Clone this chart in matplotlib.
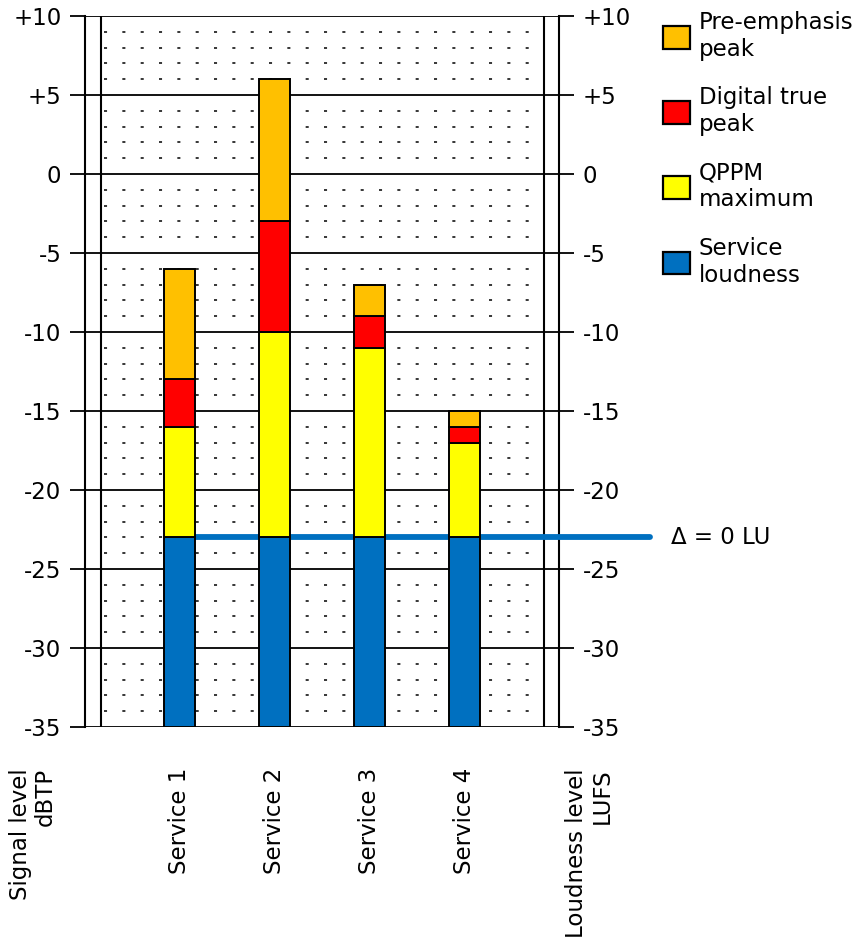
import numpy as np
import matplotlib
matplotlib.use("Agg")
import matplotlib.pyplot as plt
from matplotlib.patches import Patch

plt.rcParams['font.family'] = ['DejaVu Sans']
plt.rcParams['lines.scale_dashes'] = False

services = ['Service 1', 'Service 2', 'Service 3', 'Service 4']
loudness = [-23, -23, -23, -23]        # LUFS
qppm_max = [-16, -10, -11, -17]        # dBTP
true_peak = [-13, -3, -9, -16]
preemph_peak = [-6, 6, -7, -15]
target = -23
yticks = [10, 5, 0, -5, -10, -15, -20, -25, -30, -35]
ytick_labels = ['+10', '+5', '0', '-5', '-10', '-15', '-20', '-25', '-30', '-35']

c_orange = '#FFC000'
c_red = '#FF0000'
c_yellow = '#FFFF00'
c_blue = '#0070C0'
fs = 16.5
ymin = -35

fig = plt.figure(figsize=(8.62, 9.5), dpi=100)
ax = fig.add_axes([85 / 862, 1 - 727 / 950, 474 / 862, 711 / 950])
ax.set_xlim(0, 5)
ax.set_ylim(ymin, 10)

x = np.arange(1, len(services) + 1)
lw_edge = 1.4

# dotted grid rows at every dB between the major lines
for lvl in range(ymin + 1, 10):
    if lvl % 5 != 0:
        ax.hlines(lvl, 0.2, 4.84, colors='black', lw=1.1,
                  linestyles=(0, (2.2, 11.0)), zorder=1)

# major lines
for lvl in yticks:
    ax.axhline(lvl, color='black', lw=1.3, zorder=2)
ax.axvline(0.17, color='black', lw=1.5, zorder=2)
ax.axvline(4.84, color='black', lw=1.5, zorder=2)

# target loudness line
ax.plot([1, 5.96], [target, target], color=c_blue, lw=4.2,
        solid_capstyle='round', zorder=3, clip_on=False)
ax.text(6.18, target, '\u0394 = 0 LU', fontsize=fs, va='center', ha='left')

w = 0.33
lo = np.array(loudness)
q = np.array(qppm_max)
t = np.array(true_peak)
p = np.array(preemph_peak)
ax.bar(x, lo - ymin, w, bottom=ymin, color=c_blue, edgecolor='black', lw=lw_edge, zorder=4)
ax.bar(x, q - lo, w, bottom=lo, color=c_yellow, edgecolor='black', lw=lw_edge, zorder=4)
ax.bar(x, t - q, w, bottom=q, color=c_red, edgecolor='black', lw=lw_edge, zorder=4)
ax.bar(x, p - t, w, bottom=t, color=c_orange, edgecolor='black', lw=lw_edge, zorder=4)

for s in ['top', 'bottom']:
    ax.spines[s].set_visible(False)
for s in ['left', 'right']:
    ax.spines[s].set_linewidth(1.5)

ax.set_yticks(yticks)
ax.set_yticklabels(ytick_labels, fontsize=fs)
ax.tick_params(axis='y', which='both', left=True, right=True, labelleft=True,
               labelright=True, length=11, width=1.3, direction='out', pad=6)
ax.set_xticks([])

# category labels below
for xi, name in zip(x, services):
    ax.text(xi, -37.6, name, rotation=90, ha='center', va='top', fontsize=fs)
ax.text(-0.55, -37.6, 'Signal level\ndBTP', rotation=90, ha='center', va='top',
        multialignment='right', fontsize=fs, linespacing=1.15)
ax.text(5.32, -37.6, 'Loudness level\nLUFS', rotation=90, ha='center', va='top',
        multialignment='right', fontsize=fs, linespacing=1.15)

handles = [Patch(facecolor=c_orange, edgecolor='black', lw=1.6),
           Patch(facecolor=c_red, edgecolor='black', lw=1.6),
           Patch(facecolor=c_yellow, edgecolor='black', lw=1.6),
           Patch(facecolor=c_blue, edgecolor='black', lw=1.6)]
labels = ['Pre-emphasis\npeak', 'Digital true\npeak', 'QPPM\nmaximum', 'Service\nloudness']
fig.legend(handles, labels, loc='upper left', bbox_to_anchor=(654 / 862, 1 - 2 / 950),
           frameon=False, fontsize=fs, handlelength=1.15, handleheight=1.15,
           handletextpad=0.4, labelspacing=1.12, borderaxespad=0)

fig.savefig('out.png', dpi=100)
